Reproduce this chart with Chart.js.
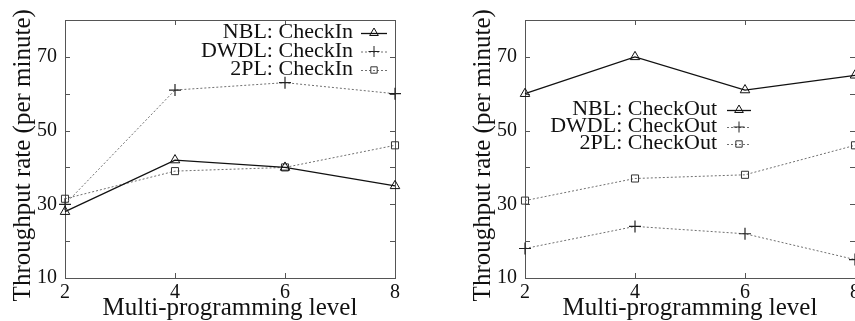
<!DOCTYPE html>
<html>
<head>
<meta charset="utf-8">
<script src="https://cdn.jsdelivr.net/npm/chart.js@4/dist/chart.umd.min.js"></script>
<style>
  html, body { margin: 0; padding: 0; background: #fff; overflow: hidden; }
  body { width: 855px; height: 321px; position: relative; }
  canvas { position: absolute; top: 0; }
  #checkInChart { left: 0; }
  #checkOutChart { left: 460px; }
</style>
</head>
<body>
<canvas id="checkInChart" width="430" height="321"></canvas>
<canvas id="checkOutChart" width="430" height="321"></canvas>
<script>
// x: multi-programming level, y: throughput (per minute)
const levels = [2, 4, 6, 8];
const yLabels = [10, 30, 50, 70];

const checkInNames = ['NBL: CheckIn', 'DWDL: CheckIn', '2PL: CheckIn'];
const nblCheckIn = [28, 42, 40, 35];
const dwdlCheckIn = [30, 61, 63, 60];
const twoPlCheckIn = [31.5, 39, 40, 46];

const checkOutNames = ['NBL: CheckOut', 'DWDL: CheckOut', '2PL: CheckOut'];
const nblCheckOut = [60, 70, 61, 65];
const dwdlCheckOut = [18, 24, 22, 15];
const twoPlCheckOut = [31, 37, 38, 46];

const serif = "'Liberation Serif', 'DejaVu Serif', serif";
const solidColor = '#111';
const dotColor = '#707070';
const frameColor = '#555';

// box around the plot with gnuplot style inward ticks
const framePlugin = {
  id: 'frame',
  beforeDatasetsDraw(chart) {
    const { ctx, chartArea: a, scales } = chart;
    ctx.save();
    ctx.strokeStyle = frameColor;
    ctx.lineWidth = 1;
    ctx.strokeRect(a.left + 0.5, a.top + 0.5, a.right - a.left, a.bottom - a.top);
    ctx.beginPath();
    for (let v = scales.y.min; v <= scales.y.max; v += 10) {
      const y = Math.round(scales.y.getPixelForValue(v)) + 0.5;
      ctx.moveTo(a.left, y); ctx.lineTo(a.left + 5, y);
      ctx.moveTo(a.right, y); ctx.lineTo(a.right - 5, y);
    }
    levels.forEach(v => {
      const x = Math.round(scales.x.getPixelForValue(v)) + 0.5;
      ctx.moveTo(x, a.bottom); ctx.lineTo(x, a.bottom - 5);
      ctx.moveTo(x, a.top); ctx.lineTo(x, a.top + 5);
    });
    ctx.stroke();
    ctx.restore();
  }
};

// key drawn inside the plot: text right aligned, sample line to its right
const keyPlugin = {
  id: 'key',
  afterDatasetsDraw(chart, args, opts) {
    const ctx = chart.ctx;
    chart.data.datasets.forEach((ds, i) => {
      const y = opts.top + i * opts.rowGap;
      ctx.save();
      ctx.font = opts.font;
      ctx.textAlign = 'right';
      ctx.textBaseline = 'middle';
      ctx.fillStyle = '#111';
      // the original lettering is a bit wider than Liberation Serif
      ctx.translate(opts.textRight, y);
      ctx.scale(1.1, 1);
      ctx.fillText(ds.label, 0, 0);
      ctx.restore();

      ctx.save();
      ctx.strokeStyle = ds.borderColor;
      ctx.lineWidth = ds.borderWidth;
      ctx.setLineDash(ds.borderDash || []);
      ctx.beginPath();
      ctx.moveTo(opts.lineStart, y + 0.5);
      ctx.lineTo(opts.lineEnd, y + 0.5);
      ctx.stroke();
      ctx.setLineDash([]);
      ctx.fillStyle = 'rgba(0,0,0,0)';
      ctx.strokeStyle = ds.pointBorderColor;
      ctx.lineWidth = 1;
      Chart.helpers.drawPoint(ctx, { pointStyle: ds.pointStyle, radius: ds.pointRadius - 0.5, borderWidth: 1, rotation: 0 },
        (opts.lineStart + opts.lineEnd) / 2, y);
      ctx.restore();
    });
  }
};

function series(values) {
  return values.map((v, i) => ({ x: levels[i], y: v }));
}

function drawPanel(canvasId, names, nbl, dwdl, twoPl, key) {
  const ctx = document.getElementById(canvasId).getContext('2d');
  return new Chart(ctx, {
    type: 'line',
    data: {
      datasets: [{
        label: names[0],
        data: series(nbl),
        borderColor: solidColor,
        borderWidth: 1.3,
        pointStyle: 'triangle',
        pointRadius: 5.5,
        pointBorderColor: solidColor,
        pointBackgroundColor: 'rgba(0,0,0,0)',
        pointBorderWidth: 1
      }, {
        label: names[1],
        data: series(dwdl),
        borderColor: dotColor,
        borderWidth: 1,
        borderDash: [2, 2],
        pointStyle: 'cross',
        pointRadius: 6,
        pointBorderColor: '#222',
        pointBorderWidth: 1.2
      }, {
        label: names[2],
        data: series(twoPl),
        borderColor: dotColor,
        borderWidth: 1,
        borderDash: [2, 2],
        pointStyle: 'rect',
        pointRadius: 5,
        pointBorderColor: '#333',
        pointBackgroundColor: 'rgba(0,0,0,0)',
        pointBorderWidth: 1
      }]
    },
    options: {
      responsive: false,
      animation: false,
      layout: { padding: { top: 18, right: 35, left: 0, bottom: 0 } },
      elements: { line: { tension: 0 } },
      datasets: { line: { clip: false } },
      scales: {
        x: {
          type: 'linear',
          min: 2,
          max: 8,
          afterBuildTicks: s => { s.ticks = levels.map(v => ({ value: v })); },
          afterFit: s => { s.height = 43; },
          grid: { display: false, drawTicks: false },
          border: { display: false },
          ticks: { font: { family: serif, size: 20 }, color: '#111', padding: 3, maxRotation: 0 },
          title: {
            display: true,
            text: 'Multi-programming level',
            font: { family: serif, size: 25, lineHeight: 1 },
            color: '#111',
            padding: { top: 0, bottom: 0 }
          }
        },
        y: {
          min: 10,
          max: 80,
          afterBuildTicks: s => { s.ticks = yLabels.map(v => ({ value: v })); },
          afterFit: s => { s.width = 65; },
          grid: { display: false, drawTicks: false },
          border: { display: false },
          ticks: { font: { family: serif, size: 20 }, color: '#111', padding: 8 },
          title: {
            display: true,
            // trailing spaces nudge the rotated title a little lower, as in the original
            text: 'Throughput rate (per minute)  ',
            font: { family: serif, size: 25, lineHeight: 1.2 },
            color: '#111',
            padding: { top: 8, bottom: 0 }
          }
        }
      },
      plugins: {
        legend: { display: false },
        tooltip: { enabled: false },
        key: key
      }
    },
    plugins: [framePlugin, keyPlugin]
  });
}

drawPanel('checkInChart', checkInNames, nblCheckIn, dwdlCheckIn, twoPlCheckIn,
  { font: '20px ' + serif, textRight: 353, top: 33, rowGap: 18.5, lineStart: 361, lineEnd: 387 });
drawPanel('checkOutChart', checkOutNames, nblCheckOut, dwdlCheckOut, twoPlCheckOut,
  { font: '20px ' + serif, textRight: 257, top: 110, rowGap: 17, lineStart: 267, lineEnd: 291 });
</script>
</body>
</html>
